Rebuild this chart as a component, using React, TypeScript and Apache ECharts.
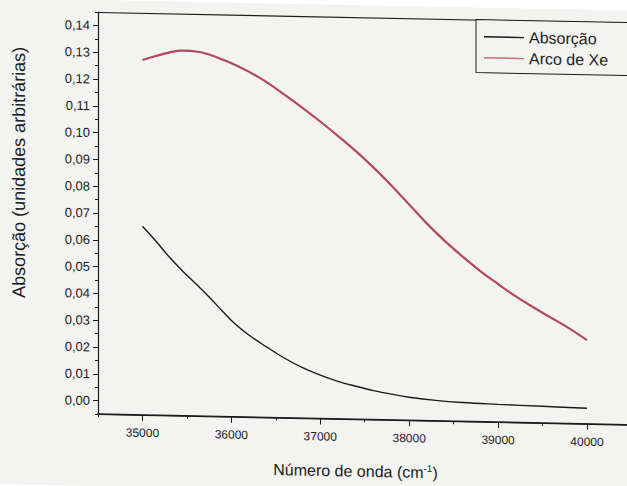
import React, { useEffect, useRef } from "react";
import * as echarts from "echarts";

const absorcaoX = [35000, 35150, 35300, 35450, 35600, 35750, 35900, 36050, 36200, 36400, 36600, 36800, 37000, 37200, 37400, 37600, 37800, 38000, 38300, 38600, 39000, 39500, 40000];
const absorcaoY = [0.0654, 0.0600, 0.0542, 0.0490, 0.0443, 0.0395, 0.0343, 0.0294, 0.0255, 0.0212, 0.0172, 0.0138, 0.0112, 0.0090, 0.0073, 0.0058, 0.0046, 0.0036, 0.0026, 0.0020, 0.0016, 0.0012, 0.0008];

const xenonX = [35000, 35150, 35300, 35450, 35600, 35750, 35900, 36050, 36200, 36400, 36600, 36800, 37000, 37200, 37400, 37600, 37800, 38000, 38200, 38400, 38600, 38800, 39000, 39200, 39400, 39600, 39800, 40000];
const xenonY = [0.1274, 0.1290, 0.1304, 0.1312, 0.1310, 0.1300, 0.1282, 0.1262, 0.1238, 0.1200, 0.1155, 0.1108, 0.1058, 0.1005, 0.0950, 0.0890, 0.0825, 0.0755, 0.0685, 0.0622, 0.0565, 0.0512, 0.0465, 0.0420, 0.0380, 0.0342, 0.0305, 0.0262];

const xMajor = [35000, 36000, 37000, 38000, 39000, 40000];
const xMinor = [34500, 35500, 36500, 37500, 38500, 39500];
const yMajor = [0, 0.01, 0.02, 0.03, 0.04, 0.05, 0.06, 0.07, 0.08, 0.09, 0.1, 0.11, 0.12, 0.13, 0.14];
const yMinor = [-0.005, 0.005, 0.015, 0.025, 0.035, 0.045, 0.055, 0.065, 0.075, 0.085, 0.095, 0.105, 0.115, 0.125, 0.135, 0.145];
const X_MIN = 34500;
const X_MAX = 40450;
const Y_MIN = -0.005;
const Y_MAX = 0.145;

const FONT = "Liberation Sans, Arial, sans-serif";
const INK = "#1c1c1c";
const PAPER = "#f3f3f1";

export default function App() {
  const ref = useRef<HTMLDivElement>(null);
  useEffect(() => {
    if (!ref.current) return;
    const chart = echarts.init(ref.current, undefined, { renderer: "svg" });
    const xBase = { type: "value", min: X_MIN, max: X_MAX, splitLine: { show: false } };
    const yBase = { type: "value", min: Y_MIN, max: Y_MAX, splitLine: { show: false } };
    chart.setOption({
      animation: false,
      backgroundColor: PAPER,
      textStyle: { fontFamily: FONT, color: INK },
      grid: { left: 98, top: 12, right: 0, bottom: 72, containLabel: false },
      legend: {
        orient: "vertical",
        left: 476,
        top: 12,
        padding: [8, 40, 6, 8],
        itemGap: 3,
        itemWidth: 40,
        itemHeight: 1.3,
        icon: "rect",
        borderColor: INK,
        borderWidth: 1,
        backgroundColor: PAPER,
        textStyle: { fontFamily: FONT, fontSize: 16, lineHeight: 18, color: INK },
        data: ["Absorção", "Arco de Xe"],
      },
      xAxis: [
        {
          ...xBase,
          position: "bottom",
          name: "{a|Número de onda (cm}{s|-1}{a|)}",
          nameLocation: "middle",
          nameGap: 43,
          nameTextStyle: {
            padding: [0, 14, 0, 0],
            rich: {
              a: { fontFamily: FONT, fontSize: 16, color: INK },
              s: { fontFamily: FONT, fontSize: 10, color: INK, verticalAlign: "top", padding: [0, 0, 8, 0] },
            },
          },
          axisLine: { show: true, onZero: false, lineStyle: { color: INK, width: 1.2 } },
          axisTick: { show: true, length: 6, inside: false, customValues: xMajor, lineStyle: { color: INK } },
          axisLabel: {
            show: true,
            customValues: xMajor,
            fontSize: 12,
            color: INK,
            fontFamily: FONT,
            margin: 12,
            formatter: (v: number) => String(v),
          },
        },
        {
          ...xBase,
          position: "bottom",
          axisLine: { show: false, onZero: false },
          axisTick: { show: true, length: 3, customValues: xMinor, lineStyle: { color: INK } },
          axisLabel: { show: false },
        },
        {
          ...xBase,
          position: "top",
          axisLine: { show: true, onZero: false, lineStyle: { color: INK, width: 1.2 } },
          axisTick: { show: false },
          axisLabel: { show: false },
        },
      ],
      yAxis: [
        {
          ...yBase,
          position: "left",
          name: "Absorção (unidades arbitrárias)",
          nameLocation: "middle",
          nameGap: 70,
          nameTextStyle: { fontFamily: FONT, fontSize: 18, color: INK, padding: [0, 0, 0, 78] },
          axisLine: { show: true, onZero: false, lineStyle: { color: INK, width: 1.2 } },
          axisTick: { show: true, length: 5, customValues: yMajor, lineStyle: { color: INK } },
          axisLabel: {
            show: true,
            customValues: yMajor,
            fontSize: 13,
            color: INK,
            fontFamily: FONT,
            margin: 8,
            formatter: (v: number) => v.toFixed(2).replace(".", ","),
          },
        },
        {
          ...yBase,
          position: "left",
          axisLine: { show: false, onZero: false },
          axisTick: { show: true, length: 3, customValues: yMinor, lineStyle: { color: INK } },
          axisLabel: { show: false },
        },
      ],
      series: [
        {
          name: "Absorção",
          type: "line",
          xAxisIndex: 0,
          yAxisIndex: 0,
          symbol: "none",
          smooth: 0.4,
          lineStyle: { color: "#1a1a1a", width: 1.4 },
          itemStyle: { color: "#1a1a1a" },
          data: absorcaoX.map((x, i) => [x, absorcaoY[i]]),
        },
        {
          name: "Arco de Xe",
          type: "line",
          xAxisIndex: 0,
          yAxisIndex: 0,
          symbol: "none",
          smooth: 0.4,
          lineStyle: { color: "#b3495e", width: 2.2 },
          itemStyle: { color: "#c86a7a" },
          data: xenonX.map((x, i) => [x, xenonY[i]]),
        },
      ],
    });
    const p0 = chart.convertToPixel({ xAxisIndex: 0, yAxisIndex: 0 }, [X_MIN, Y_MIN]) as number[];
    const p1 = chart.convertToPixel({ xAxisIndex: 0, yAxisIndex: 0 }, [X_MAX, Y_MIN]) as number[];
    if (p0 && p1) {
      chart.setOption({
        graphic: [
          {
            type: "rect",
            silent: true,
            z: 100,
            shape: { x: p0[0] - 0.6, y: p0[1] - 0.7, width: p1[0] - p0[0] + 1, height: 1.4 },
            style: { fill: INK },
          },
        ],
      });
    }
    return () => chart.dispose();
  }, []);
  return (
    <div
      ref={ref}
      style={{
        width: 627,
        height: 486,
        position: "absolute",
        left: 0,
        top: 0,
        background: PAPER,
        transform: "skewY(1.15deg)",
        transformOrigin: "98px 0px",
      }}
    />
  );
}
